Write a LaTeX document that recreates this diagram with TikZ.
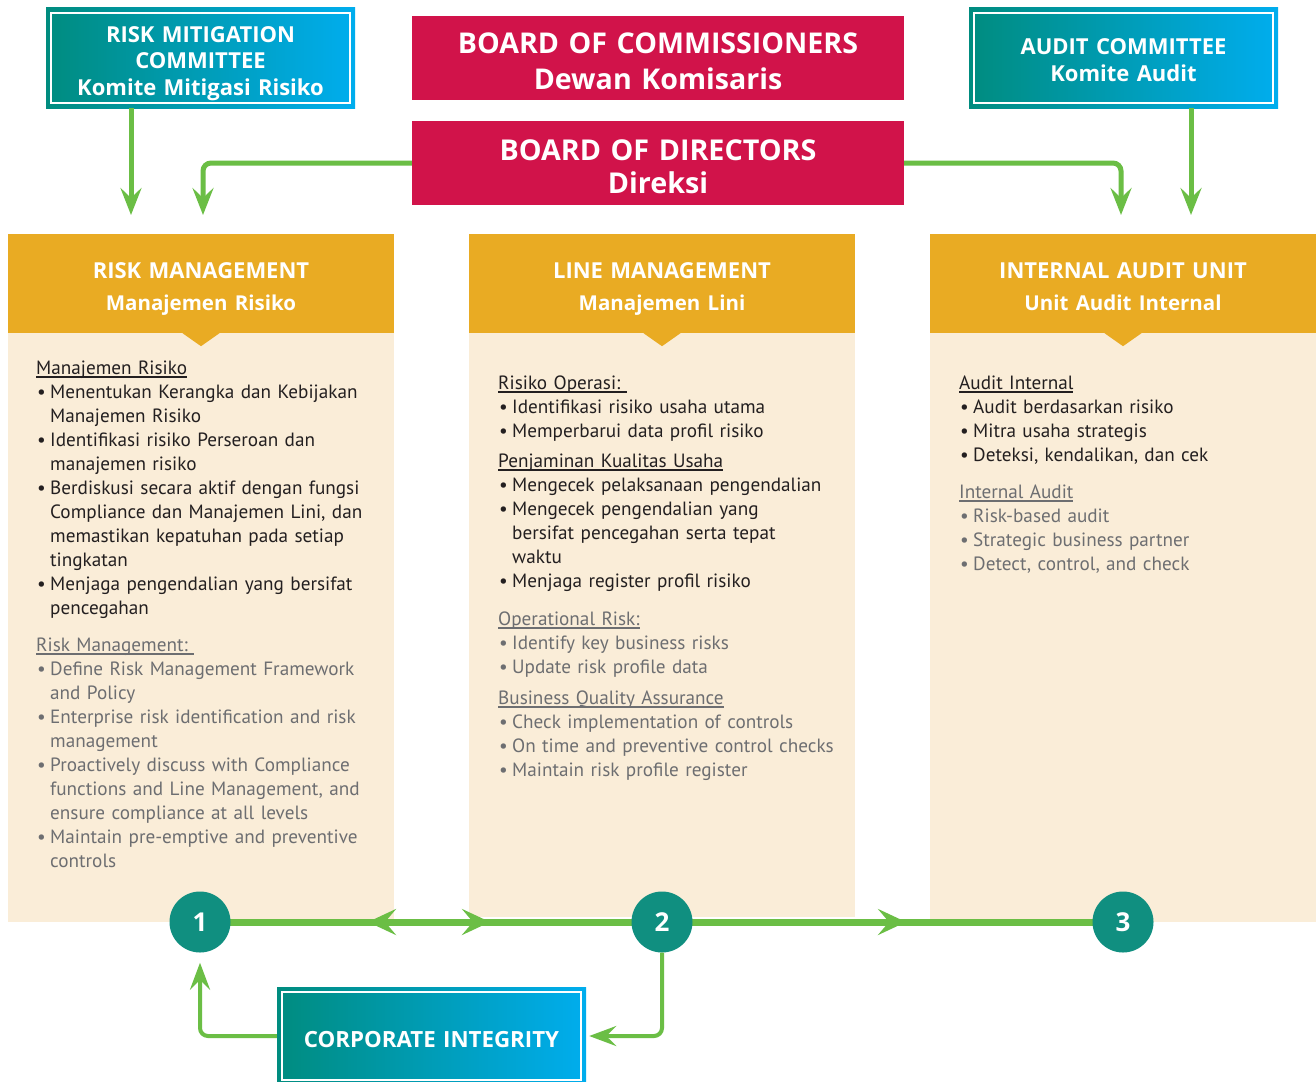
\documentclass[tikz,border=0pt]{standalone}
\usepackage{fontspec}
\setmainfont{PT Sans}
\newfontfamily\hfont{Open Sans}
\usetikzlibrary{arrows.meta}
\definecolor{crim}{HTML}{D1134A}
\definecolor{hdrorange}{HTML}{E9AB23}
\definecolor{cream}{HTML}{FAEDD8}
\definecolor{lgreen}{HTML}{6BBE45}
\definecolor{tealc}{HTML}{108F80}
\definecolor{gradA}{HTML}{008C7F}
\definecolor{gradB}{HTML}{00ADEE}
\definecolor{blacktext}{HTML}{231F20}
\definecolor{graytext}{HTML}{6D6E71}
\newcommand\bitem{\leavevmode\makebox[14pt][l]{\hspace{1pt}•}}
\newcommand\bcont{\leavevmode\hspace*{14pt}}
\newsavebox\myulbox
\newcommand\uln[1]{\leavevmode\sbox\myulbox{#1}\rlap{\rule[-3.5pt]{\wd\myulbox}{1.3pt}}\usebox\myulbox}
\tikzset{
  gradbox/.style={left color=gradA, right color=gradB, draw=none, inner sep=0pt,
    path picture={\draw[white,line width=2pt] ([shift={(5pt,-5pt)}]path picture bounding box.north west) rectangle ([shift={(-5pt,5pt)}]path picture bounding box.south east);}},
  crimbox/.style={fill=crim, inner sep=0pt, minimum width=492pt, minimum height=84pt},
  hdrbox/.style={fill=hdrorange, inner sep=0pt, minimum width=386pt, minimum height=99pt},
  boxtext/.style={text=white, text width=480pt, align=center, inner sep=0pt, anchor=base},
  body/.style={text width=370pt, align=left, inner sep=0pt, text=blacktext, font=\fontsize{19.2}{24}\selectfont},
  numcirc/.style={circle, fill=tealc, text=white, minimum size=61pt, inner sep=0pt, font=\hfont\bfseries\fontsize{26}{26}\selectfont},
  garrow/.style={draw=lgreen, line width=5pt, rounded corners=8pt, -{Stealth[length=27pt,width=21pt,inset=10pt]}},
  gloop/.style={draw=lgreen, line width=4pt, rounded corners=8pt, -{Stealth[length=27pt,width=20pt,inset=10pt]}},
  gmid/.style={draw=lgreen, line width=7pt},
  gmidarrow/.style={draw=lgreen, line width=7pt, -{Stealth[length=28pt,width=26pt,inset=11pt]}}
}
\begin{document}
\begin{tikzpicture}[x=1pt,y=-1pt]
\useasboundingbox (0,0) rectangle (1316,1081);
\fill[white] (0,0) rectangle (1316,1081);

% column bodies
\fill[cream] (8,333) rectangle (394,922);
\fill[cream] (469,333) rectangle (855,917);
\fill[cream] (930,333) rectangle (1316,922);

% headers
\node[hdrbox] (h1) at (201,283.5) {};
\node[hdrbox] (h2) at (662,283.5) {};
\node[hdrbox] (h3) at (1123,283.5) {};
\foreach \h in {h1,h2,h3}{
  \fill[hdrorange] ([xshift=-18.5pt]\h.south) -- ([yshift=-13pt]\h.south) -- ([xshift=18.5pt]\h.south) -- cycle;
}
\tikzset{hfnt/.style={boxtext, font=\hfont\bfseries\fontsize{22}{32}\selectfont}}
\node[hfnt] (h1t) at (201,278) {RISK MANAGEMENT\\\fontsize{20.5}{32}\selectfont Manajemen Risiko};
\node[hfnt] (h2t) at (662,278) {LINE MANAGEMENT\\\fontsize{20.5}{32}\selectfont Manajemen Lini};
\node[hfnt] (h3t) at (1123,278) {INTERNAL AUDIT UNIT\\\fontsize{20.5}{32}\selectfont Unit Audit Internal};

% top boxes
\node[gradbox, minimum width=309pt, minimum height=100pt] (rmc) at (200.5,58) {};
\node[boxtext, font=\hfont\bfseries\fontsize{22}{26.5}\selectfont] (rmct) at (200.5,42)
  {RISK MITIGATION\\COMMITTEE\\Komite Mitigasi Risiko};
\node[gradbox, minimum width=309pt, minimum height=100pt] (ac) at (1123.5,58) {};
\node[boxtext, font=\hfont\bfseries\fontsize{22}{27}\selectfont] (act) at (1123.5,55)
  {AUDIT COMMITTEE\\Komite Audit};
\node[crimbox] (boc) at (658,58) {};
\node[boxtext, font=\hfont\bfseries\fontsize{28.6}{36}\selectfont] (boct) at (658,53)
  {BOARD OF COMMISSIONERS\\Dewan Komisaris};
\node[crimbox] (bod) at (658,163) {};
\node[boxtext, font=\hfont\bfseries\fontsize{28.7}{33}\selectfont] (bodt) at (658,160)
  {BOARD OF DIRECTORS\\Direksi};

% arrow targets
\coordinate (rmTipA) at (131,215);
\coordinate (rmTipB) at (203,215);
\coordinate (iaTipA) at (1121,215);
\coordinate (iaTipB) at (1191,215);
\draw[garrow] (rmc.south -| rmTipA) -- (rmTipA);
\draw[garrow] (bod.west) -| (rmTipB);
\draw[garrow] (bod.east) -| (iaTipA);
\draw[garrow] (ac.south -| iaTipB) -- (iaTipB);

% body texts
\node[body, anchor=base west] (t1) at (36,374) {%
\uln{Manajemen Risiko}\\
\bitem Menentukan Kerangka dan Kebijakan\\
\bcont Manajemen Risiko\\
\bitem Identifikasi risiko Perseroan dan\\
\bcont manajemen risiko\\
\bitem Berdiskusi secara aktif dengan fungsi\\
\bcont Compliance dan Manajemen Lini, dan\\
\bcont memastikan kepatuhan pada setiap\\
\bcont tingkatan\\
\bitem Menjaga pengendalian yang bersifat\\
\bcont pencegahan\\[13pt]
\color{graytext}\uln{Risk Management:\ }\\
\bitem Define Risk Management Framework\\
\bcont and Policy\\
\bitem Enterprise risk identification and risk\\
\bcont management\\
\bitem Proactively discuss with Compliance\\
\bcont functions and Line Management, and\\
\bcont ensure compliance at all levels\\
\bitem Maintain pre-emptive and preventive\\
\bcont controls};

\node[body, anchor=base west] (t2) at (498,389) {%
\uln{Risiko Operasi:\ }\\
\bitem Identifikasi risiko usaha utama\\
\bitem Memperbarui data profil risiko\\[6pt]
\uln{Penjaminan Kualitas Usaha}\\
\bitem Mengecek pelaksanaan pengendalian\\
\bitem Mengecek pengendalian yang\\
\bcont bersifat pencegahan serta tepat\\
\bcont waktu\\
\bitem Menjaga register profil risiko\\[14pt]
\color{graytext}\uln{Operational Risk:}\\
\bitem Identify key business risks\\
\bitem Update risk profile data\\[7pt]
\uln{Business Quality Assurance}\\
\bitem Check implementation of controls\\
\bitem On time and preventive control checks\\
\bitem Maintain risk profile register};

\node[body, anchor=base west] (t3) at (959,389) {%
\uln{Audit Internal}\\
\bitem Audit berdasarkan risiko\\
\bitem Mitra usaha strategis\\
\bitem Deteksi, kendalikan, dan cek\\[13pt]
\color{graytext}\uln{Internal Audit}\\
\bitem Risk-based audit\\
\bitem Strategic business partner\\
\bitem Detect, control, and check};

% circles and main line
\coordinate (c1p) at (200,922);
\coordinate (c2p) at (662,922);
\coordinate (c3p) at (1123,922);
\coordinate (tipL) at (368,922);
\coordinate (tipR) at (490,922);
\coordinate (tipR2) at (906,922);
\draw[gmid] (c1p) -- (c3p);
\draw[gmidarrow] (c2p) -- (tipL);
\draw[gmidarrow] (c1p) -- (tipR);
\draw[gmidarrow] (c2p) -- (tipR2);
\node[numcirc] (c1) at (c1p) {1};
\node[numcirc] (c2) at (c2p) {2};
\node[numcirc] (c3) at (c3p) {3};

% corporate integrity
\node[gradbox, minimum width=309pt, minimum height=98pt] (ci) at (431.5,1036) {};
\node[boxtext, font=\hfont\bfseries\fontsize{22.3}{26}\selectfont] (cit) at (431.5,1047) {CORPORATE INTEGRITY};
\draw[gloop, shorten >=10pt] (ci.west) -| (c1.south);
\draw[gloop, shorten >=3pt] (c2.south) |- (ci.east);
\end{tikzpicture}
\end{document}
